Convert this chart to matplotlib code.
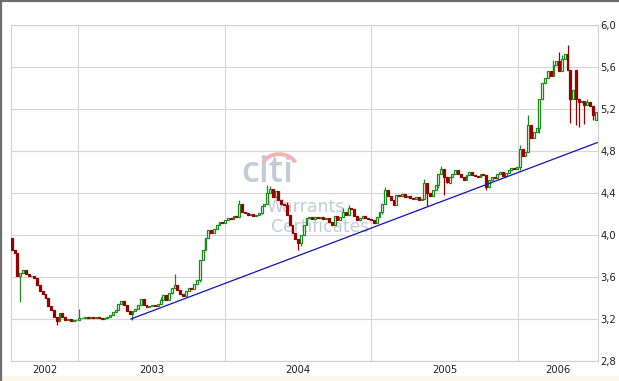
import numpy as np
import pandas as pd
import matplotlib
matplotlib.use("Agg")
import matplotlib.pyplot as plt
import matplotlib.dates as mdates
from matplotlib.patches import Arc, Rectangle
from matplotlib.lines import Line2D

# ---------------- data (weekly candles) ----------------
start_date = "2002-07-19"
first_open = 3.97
closes = [
    3.86, 3.83, 3.61, 3.64, 3.67, 3.63, 3.61, 3.61, 3.59, 3.52,
    3.47, 3.44, 3.40, 3.32, 3.29, 3.22, 3.18, 3.26, 3.22, 3.19,
    3.20, 3.18, 3.19, 3.19, 3.21, 3.21, 3.22, 3.21, 3.22, 3.21,
    3.22, 3.21, 3.20, 3.21, 3.22, 3.24, 3.27, 3.29, 3.34, 3.37,
    3.33, 3.28, 3.25, 3.28, 3.30, 3.33, 3.39, 3.33, 3.31, 3.32,
    3.33, 3.32, 3.34, 3.38, 3.43, 3.38, 3.45, 3.50, 3.52, 3.48,
    3.44, 3.42, 3.47, 3.50, 3.49, 3.53, 3.57, 3.76, 3.86, 3.97,
    4.05, 4.02, 4.06, 4.10, 4.12, 4.11, 4.14, 4.16, 4.15, 4.18,
    4.17, 4.30, 4.22, 4.21, 4.19, 4.20, 4.18, 4.19, 4.21, 4.28,
    4.30, 4.40, 4.44, 4.36, 4.42, 4.33, 4.30, 4.29, 4.19, 4.10,
    4.02, 3.96, 3.92, 4.00, 4.10, 4.16, 4.17, 4.15, 4.17, 4.16,
    4.17, 4.15, 4.16, 4.12, 4.10, 4.18, 4.14, 4.17, 4.22, 4.19,
    4.26, 4.25, 4.18, 4.14, 4.16, 4.18, 4.16, 4.15, 4.14, 4.11,
    4.17, 4.22, 4.30, 4.43, 4.37, 4.33, 4.29, 4.38, 4.37, 4.39,
    4.36, 4.37, 4.35, 4.34, 4.36, 4.33, 4.34, 4.50, 4.40, 4.37,
    4.43, 4.48, 4.58, 4.63, 4.55, 4.50, 4.55, 4.58, 4.62, 4.58,
    4.55, 4.52, 4.57, 4.60, 4.57, 4.56, 4.55, 4.58, 4.57, 4.46,
    4.52, 4.55, 4.54, 4.58, 4.60, 4.56, 4.59, 4.62, 4.64, 4.63,
    4.65, 4.82, 4.75, 4.79, 5.05, 4.92, 4.98, 5.02, 5.30, 5.45,
    5.50, 5.56, 5.51, 5.62, 5.66, 5.56, 5.68, 5.72, 5.57, 5.30,
    5.38, 5.30, 5.27, 5.28, 5.24, 5.27, 5.23, 5.14, 5.17,
]
open_gaps = {201: 5.57, 208: 5.10}
high_wicks = {24: 3.30, 53: 3.41, 58: 3.63, 81: 4.33, 91: 4.48, 92: 4.47,
              98: 4.31, 118: 4.26, 120: 4.29, 133: 4.46, 147: 4.53,
              153: 4.66, 181: 4.86, 184: 5.14, 193: 5.67, 195: 5.74,
              196: 5.71, 198: 5.81, 205: 5.30}
low_wicks = {3: 3.36, 16: 3.14, 43: 3.19, 57: 3.44, 67: 3.55, 89: 4.20,
             102: 3.86, 103: 3.90, 132: 4.20, 148: 4.28, 152: 4.45,
             154: 4.38, 169: 4.43, 181: 4.62, 188: 4.97, 199: 5.07,
             201: 5.05, 202: 5.03, 204: 5.06, 207: 5.10}

trend_dates = ["2003-05-12", "2006-07-18"]
trend_values = [3.20, 4.88]

y_ticks = [2.8, 3.2, 3.6, 4.0, 4.4, 4.8, 5.2, 5.6, 6.0]
y_tick_labels = ["2,8", "3,2", "3,6", "4,0", "4,4", "4,8", "5,2", "5,6", "6,0"]
years = [2002, 2003, 2004, 2005, 2006]
x_range = ["2002-07-17", "2006-07-20"]

# ---------------- derived OHLC ----------------
dates = pd.date_range(start_date, periods=len(closes), freq="7D")
opens = [first_open] + closes[:-1]
for k, v in open_gaps.items():
    opens[k] = v
highs = [max(o, c) for o, c in zip(opens, closes)]
lows = [min(o, c) for o, c in zip(opens, closes)]
for k, v in high_wicks.items():
    highs[k] = v
for k, v in low_wicks.items():
    lows[k] = v

x = mdates.date2num(dates)
opens = np.array(opens); closes_a = np.array(closes)
highs = np.array(highs); lows = np.array(lows)
up = closes_a >= opens

GREEN = "#1a8c1a"
RED = "#990000"

fig = plt.figure(figsize=(6.19, 3.81), dpi=100)
fig.patch.set_facecolor("white")
ax = fig.add_axes([11 / 619, 20 / 381, 587 / 619, 336 / 381])
ax.set_facecolor("white")

# watermark
ax.text(0.437, 0.533, "citi", transform=ax.transAxes, fontsize=26,
        color="#c2cbd8", ha="center", va="baseline", zorder=0.5,
        family="Open Sans", fontweight="semibold")
ax.add_patch(Arc((0.457, 0.578), 0.058, 0.075, theta1=25, theta2=155,
                 transform=ax.transAxes, color="#f0b4b4", lw=2.8, zorder=0.5))
ax.text(0.502, 0.458, "Warrants", transform=ax.transAxes, fontsize=12.5,
        color="#c3ccd9", ha="center", va="center", zorder=0.5)
ax.text(0.527, 0.400, "Certificates", transform=ax.transAxes, fontsize=12.3,
        color="#c3ccd9", ha="center", va="center", zorder=0.5)

# wicks
ax.vlines(x[up], lows[up], highs[up], color=GREEN, lw=0.9, zorder=2)
ax.vlines(x[~up], lows[~up], highs[~up], color=RED, lw=0.9, zorder=2)
# bodies
w = 4.8
ax.bar(x[up], closes_a[up] - opens[up], bottom=opens[up], width=w,
       facecolor="white", edgecolor=GREEN, lw=0.9, zorder=3)
ax.bar(x[~up], closes_a[~up] - opens[~up], bottom=opens[~up], width=w,
       facecolor=RED, edgecolor=RED, lw=0.9, zorder=3)

# trend line
ax.plot(mdates.date2num(pd.to_datetime(trend_dates)), trend_values,
        color="#1010c0", lw=0.9, zorder=4)

# axes
x0, x1 = mdates.date2num(pd.to_datetime(x_range))
ax.set_xlim(x0, x1)
ax.set_ylim(y_ticks[0], y_ticks[-1])

year_starts = [mdates.date2num(pd.Timestamp(f"{y}-01-01")) for y in years[1:]]
ax.set_xticks(year_starts)
ax.set_xticklabels([""] * len(year_starts))
mids = []
for y in years:
    a = max(mdates.date2num(pd.Timestamp(f"{y}-01-01")), x0)
    b = min(mdates.date2num(pd.Timestamp(f"{y + 1}-01-01")), x1)
    mids.append((a + b) / 2)
ax.set_xticks(mids, minor=True)
ax.set_xticklabels([str(y) for y in years], minor=True)
ax.tick_params(axis="x", which="both", length=0, pad=3, labelsize=7.2,
               colors="#222222")

ax.set_yticks(y_ticks)
ax.set_yticklabels(y_tick_labels)
ax.yaxis.tick_right()
ax.tick_params(axis="y", length=0, pad=1.5, labelsize=7.2, colors="#222222")

ax.grid(True, which="major", color="#d6d6d6", lw=0.8, zorder=0)
ax.set_axisbelow(True)
for s in ax.spines.values():
    s.set_color("#d0d0d0")
    s.set_linewidth(0.8)

# outer frame and bottom strip
fig.add_artist(Line2D([0, 1], [1 - 0.5 / 381, 1 - 0.5 / 381],
                      transform=fig.transFigure, color="#6e6e6e", lw=1.6))
fig.add_artist(Line2D([0.8 / 619, 0.8 / 619], [0, 1],
                      transform=fig.transFigure, color="#6e6e6e", lw=1.6))
fig.add_artist(Rectangle((0, 0), 1, 5 / 381, transform=fig.transFigure,
                         facecolor="#faf8ea", edgecolor="none"))

fig.savefig("out.png", dpi=100)
